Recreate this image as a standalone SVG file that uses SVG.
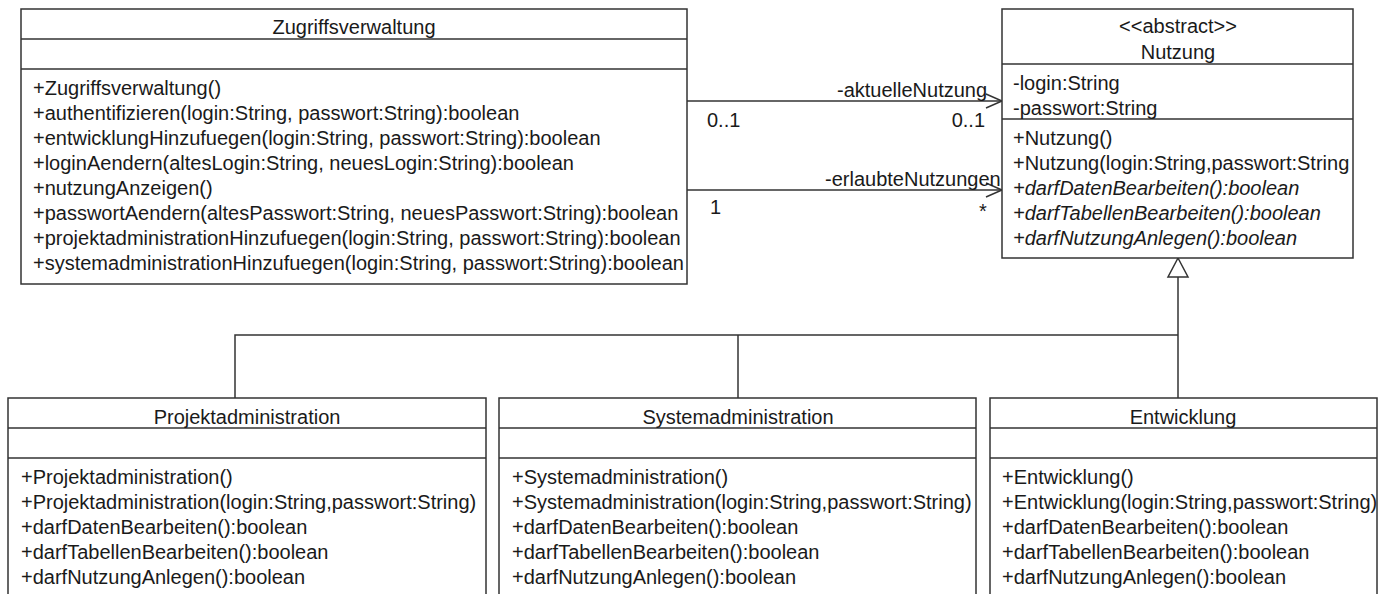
<svg xmlns="http://www.w3.org/2000/svg" width="1379" height="594" viewBox="0 0 1379 594">
<style>
text{font-family:"Liberation Sans",Arial,sans-serif;font-size:20px;fill:#1a1a1a}
.c{text-anchor:middle}
.i{font-style:italic}
.box{fill:#fff;stroke:#333;stroke-width:1.5}
.ln{stroke:#333;stroke-width:1.5;fill:none}
</style>
<rect width="1379" height="594" fill="#fff"/>
<g id="connectors">
<line class="ln" x1="687" y1="101" x2="1002" y2="101"/>
<polyline class="ln" points="986,94 1002,101 986,108"/>
<line class="ln" x1="687" y1="190" x2="1002" y2="190"/>
<polyline class="ln" points="986,183 1002,190 986,197"/>
<text x="837" y="97">-aktuelleNutzung</text>
<text x="707" y="127">0..1</text>
<text x="985" y="127" text-anchor="end">0..1</text>
<text x="825" y="186">-erlaubteNutzungen</text>
<text x="710" y="214">1</text>
<text x="979" y="218">*</text>
<polyline class="ln" points="235,398 235,335 1178,335"/>
<line class="ln" x1="738" y1="335" x2="738" y2="398"/>
<line class="ln" x1="1178" y1="277" x2="1178" y2="398"/>
<polygon class="ln" fill="#fff" points="1178,258 1168,277 1188,277"/>
</g>
<g id="Zugriffsverwaltung">
<rect class="box" x="21" y="9" width="666" height="275"/>
<line class="ln" x1="21" y1="39" x2="687" y2="39"/>
<line class="ln" x1="21" y1="69" x2="687" y2="69"/>
<text class="c" x="354" y="34">Zugriffsverwaltung</text>
<text x="33" y="95">+Zugriffsverwaltung()</text>
<text x="33" y="120">+authentifizieren(login:String, passwort:String):boolean</text>
<text x="33" y="145">+entwicklungHinzufuegen(login:String, passwort:String):boolean</text>
<text x="33" y="170">+loginAendern(altesLogin:String, neuesLogin:String):boolean</text>
<text x="33" y="195">+nutzungAnzeigen()</text>
<text x="33" y="220">+passwortAendern(altesPasswort:String, neuesPasswort:String):boolean</text>
<text x="33" y="245">+projektadministrationHinzufuegen(login:String, passwort:String):boolean</text>
<text x="33" y="270">+systemadministrationHinzufuegen(login:String, passwort:String):boolean</text>
</g>
<g id="Nutzung">
<rect class="box" x="1002" y="9" width="351" height="249"/>
<line class="ln" x1="1002" y1="64" x2="1353" y2="64"/>
<line class="ln" x1="1002" y1="119" x2="1353" y2="119"/>
<text class="c" x="1178" y="33">&lt;&lt;abstract&gt;&gt;</text>
<text class="c" x="1178" y="59">Nutzung</text>
<text x="1013" y="90">-login:String</text>
<text x="1013" y="115">-passwort:String</text>
<text x="1013" y="145">+Nutzung()</text>
<text x="1013" y="170">+Nutzung(login:String,passwort:String</text>
<text class="i" x="1013" y="195">+darfDatenBearbeiten():boolean</text>
<text class="i" x="1013" y="220">+darfTabellenBearbeiten():boolean</text>
<text class="i" x="1013" y="245">+darfNutzungAnlegen():boolean</text>
</g>
<g id="Projektadministration">
<rect class="box" x="8" y="398" width="478" height="220"/>
<line class="ln" x1="8" y1="428" x2="486" y2="428"/>
<line class="ln" x1="8" y1="458" x2="486" y2="458"/>
<text class="c" x="247" y="424">Projektadministration</text>
<text x="21" y="484">+Projektadministration()</text>
<text x="21" y="509">+Projektadministration(login:String,passwort:String)</text>
<text x="21" y="534">+darfDatenBearbeiten():boolean</text>
<text x="21" y="559">+darfTabellenBearbeiten():boolean</text>
<text x="21" y="584">+darfNutzungAnlegen():boolean</text>
</g>
<g id="Systemadministration">
<rect class="box" x="499" y="398" width="477" height="220"/>
<line class="ln" x1="499" y1="428" x2="976" y2="428"/>
<line class="ln" x1="499" y1="458" x2="976" y2="458"/>
<text class="c" x="738" y="424">Systemadministration</text>
<text x="512" y="484">+Systemadministration()</text>
<text x="512" y="509">+Systemadministration(login:String,passwort:String)</text>
<text x="512" y="534">+darfDatenBearbeiten():boolean</text>
<text x="512" y="559">+darfTabellenBearbeiten():boolean</text>
<text x="512" y="584">+darfNutzungAnlegen():boolean</text>
</g>
<g id="Entwicklung">
<rect class="box" x="990" y="398" width="387" height="220"/>
<line class="ln" x1="990" y1="428" x2="1377" y2="428"/>
<line class="ln" x1="990" y1="458" x2="1377" y2="458"/>
<text class="c" x="1183" y="424">Entwicklung</text>
<text x="1002" y="484">+Entwicklung()</text>
<text x="1002" y="509">+Entwicklung(login:String,passwort:String)</text>
<text x="1002" y="534">+darfDatenBearbeiten():boolean</text>
<text x="1002" y="559">+darfTabellenBearbeiten():boolean</text>
<text x="1002" y="584">+darfNutzungAnlegen():boolean</text>
</g>
</svg>
